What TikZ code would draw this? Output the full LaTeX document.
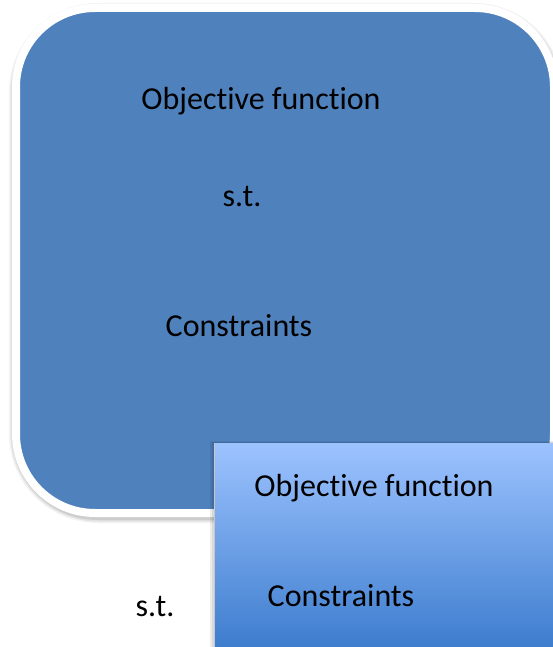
\documentclass[tikz,border=0pt]{standalone}
\usepackage{fontspec}
\setmainfont[Ligatures=NoCommon]{Carlito}
\begin{document}
\definecolor{panelblue}{RGB}{79,129,189}
\definecolor{gradtop}{RGB}{157,195,255}
\definecolor{gradbot}{RGB}{60,124,205}
\begin{tikzpicture}[x=1pt,y=-1pt,
  label/.style={font=\fontsize{32}{38}\selectfont, text=black, inner sep=0pt, anchor=center}]
\useasboundingbox (0,0) rectangle (553,647);
% soft shadow around the rounded panel
\foreach \w/\o in {14/0.05,11/0.07,8/0.09} {
  \draw[line width=\w, black, opacity=\o, rounded corners=82]
    (16,10) rectangle (556,516);
}
% rounded panel with white rim
\draw[fill=panelblue, draw=white, line width=8, rounded corners=79]
  (16,8) rectangle (554,513);
% shadow of the front box
\fill[black, opacity=0.08] (210,441) rectangle (560,650);
\fill[black, opacity=0.08] (212,442) rectangle (560,650);
% front box with vertical gradient
\shade[top color=gradtop, bottom color=gradbot] (214,443) rectangle (560,650);
\draw[black!22, line width=1] (214.5,443) -- (214.5,650);

\node[label] (obj1) at (261,101) {Objective function};
\node[label] (st1) at (242,197) {s.t.};
\node[label] (con1) at (239,326) {Constraints};
\node[label] (obj2) at (374,488) {Objective function};
\node[label] (con2) at (341,596) {Constraints};
\node[label] (st2) at (155,607) {s.t.};
\end{tikzpicture}
\end{document}
